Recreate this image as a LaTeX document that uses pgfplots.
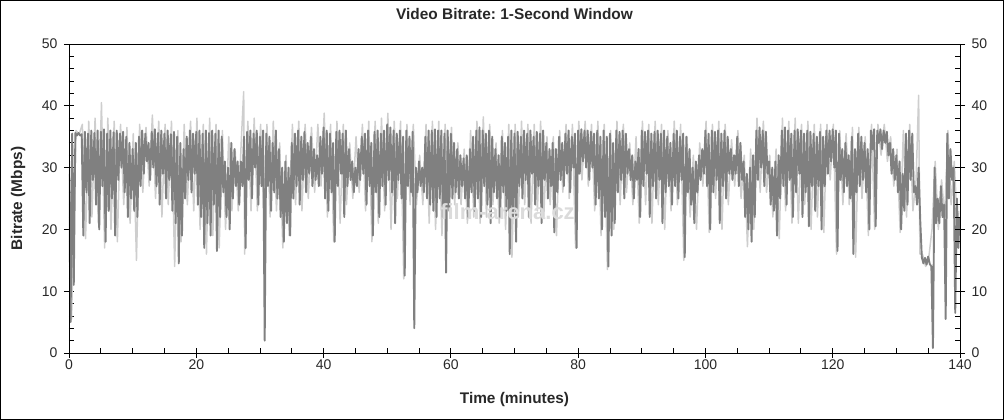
\documentclass[border=0pt]{standalone}
\usepackage{pgfplots}
\pgfplotsset{compat=1.18}
\usepackage{fontspec}
\setmainfont{Liberation Sans}
\frenchspacing
\definecolor{darkser}{RGB}{128,128,128}
\definecolor{lightser}{RGB}{206,206,206}
\definecolor{ticktext}{RGB}{40,40,40}

\begin{document}
\begin{tikzpicture}
\useasboundingbox (-69pt,-67pt) rectangle (935pt,353pt);
\draw[line width=1pt] (-68.5pt,-66.5pt) rectangle (934.5pt,352.5pt);
\begin{axis}[
  at={(0pt,0pt)}, anchor=south west,
  scale only axis, width=891pt, height=309pt,
  xmin=0, xmax=140, ymin=0, ymax=50,
  xtick={0,20,...,140}, ytick={0,10,...,50},
  minor x tick num=3, minor y tick num=4,
  xtick pos=lower, ytick pos=left,
  tick align=inside,
  major tick length=10pt, minor tick length=5pt,
  every major x tick/.append style={yshift=-5pt},
  every major y tick/.append style={xshift=-5pt},
  tick style={black, line width=0.8pt},
  axis line style={line width=0.9pt},
  ticklabel style={font=\fontsize{14}{16}\selectfont, text=ticktext},
  /pgf/number format/assume math mode=true,
  xticklabel style={yshift=-3pt},
  yticklabel style={xshift=-8pt},
  xlabel={Time (minutes)}, ylabel={Bitrate (Mbps)},
  label style={font=\bfseries\fontsize{15.4}{18}\selectfont, text=ticktext},
  xlabel style={at={(axis description cs:0.5,-0.149)}, anchor=center},
  ylabel style={at={(axis description cs:-0.0572,0.5)}, anchor=center},
  title={Video Bitrate: 1-Second Window},
  title style={font=\bfseries\fontsize{15.4}{18}\selectfont, text=ticktext,
    at={(axis description cs:0.5,1.078)}, anchor=center},
]
% light series (peaks / troughs)
\addplot[lightser, line width=1.5pt, line join=round, mark=none] coordinates {
(0.1,30)(0.4,5.5)(1.1,36)(1.6,35.4)(2.1,37)(2.6,18.5)(3.1,37.5)(3.6,22)(4.1,38)(4.6,21)
(5.1,40.5)(5.6,17)(6.1,38)(6.6,20)(7.1,37.5)(7.6,18)(8.1,37)(8.6,24)(9.1,36.5)(9.6,21)
(10.1,35.5)(10.6,15)(11.1,37)(11.6,26)(12.1,36.5)(12.6,27)(13.1,38.5)(13.6,25)(14.1,37.5)(14.6,22)
(15.1,37)(15.6,24)(16.1,37.5)(16.6,14)(17.1,36)(17.6,18)(18.1,37)(18.6,24)(19.1,37.5)(19.6,23)
(20.1,38)(20.6,20)(21.1,37)(21.6,16)(22.1,38)(22.6,19)(23.1,37)(23.6,17)(24.1,36)(24.6,20)
(25.1,35)(25.6,23)(26.1,33)(26.6,23)(27.1,35)(27.45,42.3)(27.6,16)(28.1,37.5)(28.6,23)(29.1,38)(29.6,23)
(30.1,37)(30.6,24)(31.1,37)(31.6,22)(32.1,37.5)(32.6,23)(33.1,34)(33.6,17)(34.1,32)(34.6,19)
(35.1,37)(35.6,24)(36.1,37.5)(36.6,23)(37.1,37)(37.6,25)(38.1,36.5)(38.6,26)(39.1,37)(39.6,27)
(40.1,38.8)(40.6,22)(41.1,37)(41.6,18)(42.1,37.5)(42.6,21)(43.1,37)(43.6,24)(44.1,34)(44.6,25)
(45.1,35)(45.6,26)(46.1,37)(46.6,23)(47.1,37.5)(47.6,18)(48.1,37.5)(48.6,21)(49.1,38)(49.6,23)
(50.1,38.8)(50.6,20)(51.1,37.5)(51.6,25)(52.1,37.5)(52.6,12)(53.1,37)(53.6,24)(54.1,37)(54.6,24)
(55.1,32)(55.6,24)(56.1,37)(56.6,21)(57.1,37.5)(57.6,20)(58.1,37.5)(58.6,19)(59.1,37)(59.6,24)
(60.1,36.5)(60.6,24)(61.1,34)(61.6,24)(62.1,33)(62.6,21)(63.1,36)(63.6,22)(64.1,37.5)(64.6,21)
(65.1,38.2)(65.6,22)(66.1,37)(66.6,24)(67.1,34)(67.6,21)(68.1,36)(68.6,20)(69.1,37)(69.6,15.5)
(70.1,37)(70.6,22)(71.1,37.5)(71.6,24)(72.1,37)(72.6,21)(73.1,37)(73.6,23)(74.1,37.5)(74.6,22)
(75.1,35)(75.6,24)(76.1,35)(76.6,19)(77.1,36)(77.6,26)(78.1,37)(78.6,25)(79.1,37)(79.6,17)
(80.1,37.5)(80.6,28)(81.1,37.5)(81.6,27)(82.1,37)(82.6,23)(83.1,37.5)(83.6,19)(84.1,37)(84.6,13.5)
(85.1,36)(85.6,20)(86.1,37.5)(86.6,24)(87.1,37)(87.6,26)(88.1,34)(88.6,24)(89.1,35)(89.6,21)
(90.1,37.5)(90.6,24)(91.1,37)(91.6,21)(92.1,37.5)(92.6,24)(93.1,37)(93.6,20)(94.1,36)(94.6,23)
(95.1,37.5)(95.6,24)(96.1,37)(96.6,15)(97.1,35)(97.6,22)(98.1,32)(98.6,20)(99.1,34)(99.6,27)
(100.1,37.5)(100.6,19.5)(101.1,37)(101.6,25)(102.1,37.5)(102.6,20)(103.1,37)(103.6,24)(104.1,34.5)(104.6,27)
(105.1,36)(105.6,25)(106.1,32)(106.6,17.2)(107.1,33)(107.6,20)(108.1,38)(108.6,26)(109.1,37.5)(109.6,26)
(110.1,32)(110.6,22)(111.1,33)(111.6,18.5)(112.1,38)(112.6,23)(113.1,37.5)(113.6,21)(114.1,38)(114.6,21)
(115.1,37)(115.6,24)(116.1,37.5)(116.6,20)(117.1,37)(117.6,22)(118.1,37)(118.6,19.5)(119.1,37)(119.6,28)
(120.1,37)(120.6,16)(121.1,36)(121.6,24)(122.1,35.5)(122.6,24)(123.1,36.5)(123.6,15.5)(124.1,36.5)(124.6,25)
(125.1,35)(125.6,19)(126.1,37)(126.6,20)(127.1,37)(127.6,32)(128.1,37)(128.6,31)(129.1,35)(129.6,27)
(130.1,33)(130.6,19.5)(131.1,36)(131.6,22)(132.1,37)(132.6,23)(133.1,28)(133.5,41.7)(133.7,16)
(134.1,16)(134.6,14)(135.1,15.5)(135.6,20)(136.1,31)(136.6,20)(137.1,28)(137.6,22)(138.1,36)(138.6,24)
(139.1,31)(139.6,20)(139.8,23)
};
% dark series (main 1-second values)
\addplot[darkser, line width=1.9pt, line join=round, mark=none] coordinates {
(0,29)(0.25,5)(0.5,35.5)(0.75,11)(1,35.6)(1.25,35.2)(1.5,35.6)(1.75,35.2)(2,35.4)(2.25,19)
(2.5,35.8)(2.75,26)(3,35.5)(3.25,21)(3.5,36)(3.75,28)(4,35.6)(4.25,24)(4.5,36)(4.75,20)
(5,35.8)(5.25,27)(5.5,36.2)(5.75,18)(6,35.5)(6.25,23)(6.5,36)(6.75,25)(7,35.7)(7.25,19)
(7.5,36)(7.75,28)(8,35.5)(8.25,30)(8.5,35.8)(8.75,26)(9,35)(9.25,22)(9.5,34)(9.75,25)
(10,33)(10.25,23)(10.5,34)(10.75,22)(11,35)(11.25,27)(11.5,36)(11.75,29)(12,35.5)(12.25,31)
(12.5,34)(12.75,28)(13,35.8)(13.25,30)(13.5,36.2)(13.75,27)(14,35.6)(14.25,24)(14.5,36)(14.75,29)
(15,35.5)(15.25,25)(15.5,36)(15.75,28)(16,35.4)(16.25,23)(16.5,35.8)(16.75,21)(17,35)(17.25,14.5)
(17.5,34)(17.75,19)(18,33)(18.25,25)(18.5,35)(18.75,28)(19,36)(19.25,26)(19.5,35.5)(19.75,29)
(20,35.8)(20.25,24)(20.5,36)(20.75,22)(21,35.5)(21.25,17)(21.5,36)(21.75,21)(22,35.6)(22.25,19)
(22.5,36)(22.75,24)(23,35.5)(23.25,16.5)(23.5,36)(23.75,22)(24,35)(24.25,26)(24.5,31)(24.75,22)
(25,30)(25.25,20)(25.5,34)(25.75,25)(26,33)(26.25,27)(26.5,31)(26.75,24)(27,31)(27.25,27)
(27.5,35)(27.75,17)(28,35.8)(28.25,28)(28.5,36)(28.75,25)(29,35.5)(29.25,30)(29.5,36)(29.75,24)
(30,35)(30.25,27)(30.5,36)(30.75,2)(31,35.5)(31.25,27)(31.5,35)(31.75,23)(32,34)(32.25,26)
(32.5,36)(32.75,25)(33,33)(33.25,22)(33.5,30)(33.75,18)(34,31)(34.25,21)(34.5,30)(34.75,19)
(35,34)(35.25,25)(35.5,35.5)(35.75,27)(36,36)(36.25,24)(36.5,35)(36.75,28)(37,35.8)(37.25,26)
(37.5,34)(37.75,29)(38,35)(38.25,27)(38.5,33)(38.75,28)(39,32)(39.25,27)(39.5,35)(39.75,29)
(40,36.5)(40.25,25)(40.5,36)(40.75,23)(41,35.5)(41.25,26)(41.5,34)(41.75,18)(42,35.8)(42.25,27)
(42.5,36)(42.75,29)(43,35.5)(43.25,22)(43.5,36)(43.75,27)(44,33)(44.25,28)(44.5,31)(44.75,26)
(45,30)(45.25,27)(45.5,33)(45.75,28)(46,35)(46.25,29)(46.5,35.5)(46.75,24)(47,36)(47.25,27)
(47.5,34)(47.75,19)(48,35.8)(48.25,26)(48.5,36)(48.75,22)(49,35.5)(49.25,27)(49.5,36)(49.75,24)
(50,37)(50.25,28)(50.5,36.5)(50.75,26)(51,36)(51.25,21)(51.5,35.5)(51.75,28)(52,36)(52.25,25)
(52.5,35)(52.75,12.5)(53,36)(53.25,27)(53.5,35)(53.75,26)(54,35.8)(54.25,4)(54.5,30)(54.75,26)
(55,31)(55.25,27)(55.5,30)(55.75,26)(56,35)(56.25,25)(56.5,36)(56.75,24)(57,36)(57.25,23)
(57.5,36.2)(57.75,22)(58,36)(58.25,25)(58.5,36)(58.75,22)(59,35.5)(59.25,13)(59.5,36)(59.75,23)
(60,35.5)(60.25,25)(60.5,34)(60.75,26)(61,33)(61.25,25)(61.5,32)(61.75,27)(62,31.5)(62.25,25)
(62.5,32)(62.75,22)(63,33)(63.25,26)(63.5,35)(63.75,23)(64,36)(64.25,25)(64.5,36.5)(64.75,22)
(65,36)(65.25,27)(65.5,35.5)(65.75,24)(66,36)(66.25,21)(66.5,35)(66.75,26)(67,33)(67.25,25)
(67.5,32)(67.75,22)(68,35)(68.25,26)(68.5,34)(68.75,23)(69,35)(69.25,16)(69.5,36)(69.75,22)
(70,35.5)(70.25,18)(70.5,35.8)(70.75,27)(71,35)(71.25,25)(71.5,36)(71.75,28)(72,35.5)(72.25,22)
(72.5,36)(72.75,29)(73,35)(73.25,24)(73.5,35.8)(73.75,27)(74,35.5)(74.25,21)(74.5,36)(74.75,28)
(75,34)(75.25,25)(75.5,33)(75.75,27)(76,34)(76.25,19.5)(76.5,33)(76.75,26)(77,35)(77.25,28)
(77.5,34)(77.75,27)(78,35.5)(78.25,29)(78.5,36)(78.75,26)(79,35)(79.25,30)(79.5,35.5)(79.75,17)
(80,36)(80.25,29)(80.5,36.2)(80.75,31)(81,36)(81.25,30)(81.5,36)(81.75,28)(82,35.8)(82.25,30)
(82.5,35.5)(82.75,24)(83,36)(83.25,25)(83.5,35)(83.75,20)(84,36)(84.25,22)(84.5,35)(84.75,14)
(85,35.5)(85.25,19)(85.5,34)(85.75,21)(86,36)(86.25,26)(86.5,35.8)(86.75,28)(87,36)(87.25,25)
(87.5,35.5)(87.75,29)(88,33)(88.25,28)(88.5,32)(88.75,25)(89,31)(89.25,28)(89.5,33)(89.75,22)
(90,36)(90.25,27)(90.5,35.8)(90.75,29)(91,36)(91.25,22)(91.5,35.5)(91.75,27)(92,35.8)(92.25,25)
(92.5,36)(92.75,28)(93,35.5)(93.25,21)(93.5,36)(93.75,26)(94,35)(94.25,27)(94.5,34)(94.75,24)
(95,35.5)(95.25,27)(95.5,36)(95.75,25)(96,35)(96.25,28)(96.5,35.5)(96.75,15.5)(97,35)(97.25,26)
(97.5,33)(97.75,24)(98,30)(98.25,21)(98.5,31)(98.75,26)(99,32)(99.25,28)(99.5,33)(99.75,29)
(100,36)(100.25,27)(100.5,35.5)(100.75,20)(101,36)(101.25,26)(101.5,35.8)(101.75,28)(102,36)(102.25,21)
(102.5,35.5)(102.75,27)(103,36)(103.25,25)(103.5,35)(103.75,29)(104,33)(104.25,28)(104.5,32)(104.75,29)
(105,35)(105.25,27)(105.5,34)(105.75,28)(106,31)(106.25,22)(106.5,29)(106.75,20)(107,30)(107.25,18)
(107.5,32)(107.75,22)(108,36)(108.25,28)(108.5,36.5)(108.75,30)(109,36)(109.25,27)(109.5,35.8)(109.75,29)
(110,31)(110.25,24)(110.5,30)(110.75,23)(111,31)(111.25,19)(111.5,32)(111.75,25)(112,36)(112.25,27)
(112.5,36.5)(112.75,24)(113,36)(113.25,28)(113.5,35.5)(113.75,22)(114,36)(114.25,26)(114.5,36.2)(114.75,29)
(115,36)(115.25,22)(115.5,35.5)(115.75,26)(116,36)(116.25,20.5)(116.5,35.8)(116.75,27)(117,35.5)(117.25,23)
(117.5,35)(117.75,27)(118,35.8)(118.25,20)(118.5,35)(118.75,27)(119,36)(119.25,29)(119.5,36)(119.75,31)
(120,36.2)(120.25,30)(120.5,36)(120.75,16.5)(121,35.5)(121.25,28)(121.5,33)(121.75,26)(122,34)(122.25,27)
(122.5,32)(122.75,25)(123,35)(123.25,16)(123.5,33)(123.75,26)(124,35.5)(124.25,27)(124.5,35)(124.75,28)
(125,34)(125.25,26)(125.5,33)(125.75,20)(126,36)(126.25,33)(126.5,36.2)(126.75,20.5)(127,36)(127.25,34)
(127.5,36.2)(127.75,33)(128,36)(128.25,34)(128.5,35.8)(128.75,32)(129,34)(129.25,29)(129.5,33)(129.75,28)
(130,32)(130.25,26)(130.5,31)(130.75,20)(131,29)(131.25,23)(131.5,35.5)(131.75,24)(132,36)(132.25,28)
(132.5,35.5)(132.75,26)(133,27)(133.25,24)(133.5,30)(133.75,21.5)(134,15.5)(134.25,14.5)(134.5,15.4)(134.75,14.3)
(135,15.6)(135.25,14.4)(135.5,14)(135.75,0.8)(136,30)(136.25,21)(136.5,25)(136.75,21)(137,27)(137.25,22)
(137.5,24)(137.75,5.5)(138,35.5)(138.25,25)(138.5,33)(138.75,28)(139,30)(139.25,6.5)(139.5,25)(139.75,17)
(139.9,22)
};
\node[text=white!72!gray, font=\bfseries\fontsize{22}{26}\selectfont] at (axis cs:68.9,22.8) {film-arena.cz};
\end{axis}
\begin{axis}[
  at={(0pt,0pt)}, anchor=south west,
  scale only axis, width=891pt, height=309pt,
  xmin=0, xmax=140, ymin=0, ymax=50,
  hide x axis,
  ytick={0,10,...,50}, minor y tick num=4,
  ytick pos=right, yticklabel pos=right,
  tick align=inside,
  major tick length=10pt, minor tick length=5pt,
  every major y tick/.append style={xshift=5pt},
  tick style={black, line width=0.8pt},
  axis line style={line width=0.9pt},
  ticklabel style={font=\fontsize{14}{16}\selectfont, text=ticktext},
  /pgf/number format/assume math mode=true,
  yticklabel style={xshift=8pt},
]
\end{axis}
\end{tikzpicture}
\end{document}
